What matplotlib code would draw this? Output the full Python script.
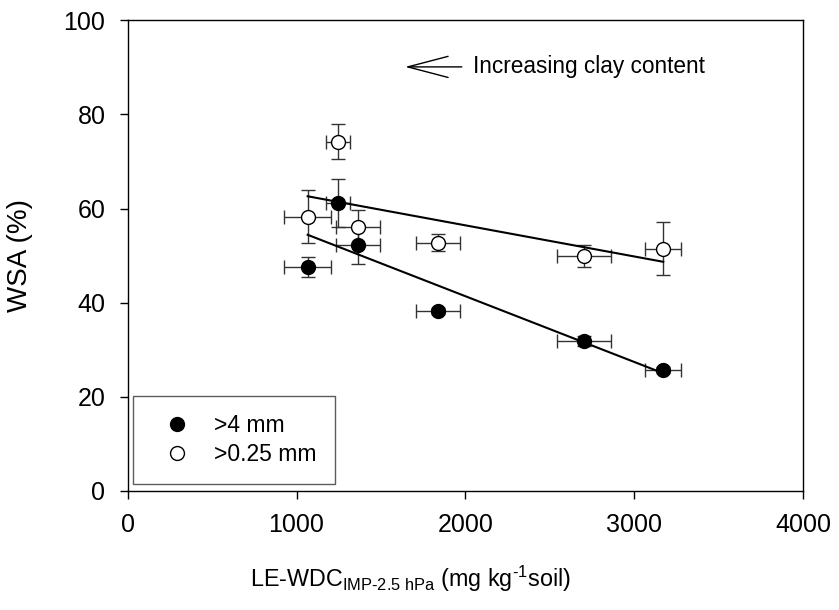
import numpy as np
import matplotlib
matplotlib.use("Agg")
import matplotlib.pyplot as plt

plt.rcParams['font.family'] = ['Liberation Sans', 'DejaVu Sans']
plt.rcParams['mathtext.fontset'] = 'custom'
plt.rcParams['mathtext.rm'] = 'Liberation Sans'
plt.rcParams['mathtext.it'] = 'Liberation Sans:italic'

# LE-WDC (mg/kg soil) per soil, with standard errors
wdc = [1066, 1244, 1366, 1836, 2702, 3172]
wdc_err = [138, 71, 130, 130, 160, 105]

# water-stable aggregates (%) for the two size classes
wsa_4mm = [47.6, 61.2, 52.3, 38.2, 31.9, 25.7]
wsa_4mm_err = [2.2, 5.1, 4.0, 0.6, 1.0, 0.6]
wsa_025mm = [58.3, 74.2, 56.1, 52.7, 49.9, 51.5]
wsa_025mm_err = [5.7, 3.7, 3.7, 1.8, 2.3, 5.6]

fig = plt.figure(figsize=(8.39, 6.10), dpi=100)
ax = fig.add_axes([127.7 / 839, 1 - 491 / 610, (803 - 127.7) / 839, (491 - 20.3) / 610])

x = np.array(wdc)
xfit = np.array([x.min(), x.max()])

for y, yerr, face, lab in [(wsa_4mm, wsa_4mm_err, 'black', '>4 mm'),
                           (wsa_025mm, wsa_025mm_err, 'white', '>0.25 mm')]:
    ax.errorbar(x, y, xerr=wdc_err, yerr=yerr, fmt='none', ecolor='#333333',
                elinewidth=1.0, capsize=5, capthick=1.0, zorder=2)
    k, b = np.polyfit(x, y, 1)
    ax.plot(xfit, k * xfit + b, color='black', lw=1.5, zorder=3)
    ax.plot(x, y, 'o', ms=10, mfc=face, mec='black', mew=1.0, zorder=4,
            linestyle='none', label=lab)

ax.annotate('', xy=(1643, 90.1), xytext=(1979, 90.1),
            arrowprops=dict(arrowstyle='->,head_length=1.45,head_width=0.38',
                            color='black', lw=1.0, shrinkA=0, shrinkB=0,
                            mutation_scale=20))
ax.text(2046, 90.1, 'Increasing clay content', fontsize=16.3, va='center', ha='left')

ax.set_xlim(0, 4000)
ax.set_ylim(0, 100)
ax.set_xticks([0, 1000, 2000, 3000, 4000])
ax.set_yticks([0, 20, 40, 60, 80, 100])
ax.tick_params(direction='out', length=6, width=1, labelsize=18, pad=10)
for s in ax.spines.values():
    s.set_linewidth(1.0)

ax.set_ylabel('WSA (%)', fontsize=20)
ax.yaxis.set_label_coords(-0.14, 0.5)
ax.set_xlabel(r'LE-WDC$_{\mathregular{IMP\text{-}2.5\ hPa}}$ (mg kg$^{\mathregular{\text{-}1}}$soil)',
              fontsize=16.8)
ax.xaxis.set_label_coords(0.418, -0.154)

leg = ax.legend(loc='lower left', bbox_to_anchor=(5 / 675.3, 6.7 / 470.7),
                fontsize=16.5, frameon=True, fancybox=False, borderpad=0.8,
                handletextpad=0.45, labelspacing=0.25, borderaxespad=0,
                handlelength=2.3)
leg.get_frame().set_edgecolor('#333333')
leg.get_frame().set_linewidth(1.0)
for h in leg.legend_handles:
    h.set_markersize(10)

fig.savefig('out.png', dpi=100)
